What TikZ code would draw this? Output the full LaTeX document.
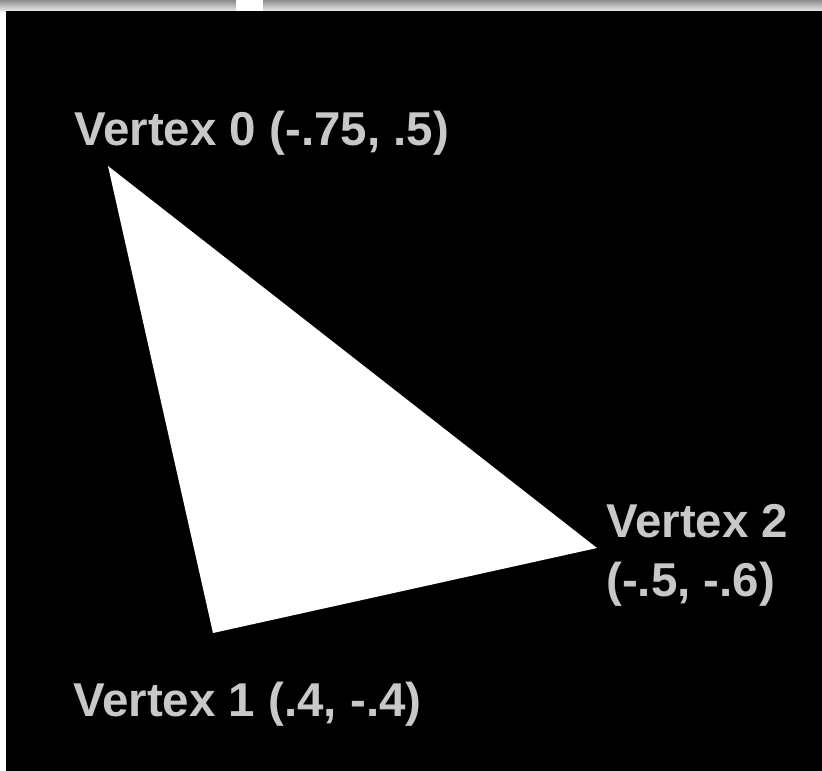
\documentclass[tikz,border=0pt]{standalone}
\usepackage{fontspec}
\setmainfont{Liberation Sans}
\begin{document}
\begin{tikzpicture}[x=1pt,y=-1pt,
  lbl/.style={text=labelgray,font=\bfseries\fontsize{47.5}{57}\selectfont,inner sep=0pt,anchor=base west,align=left}]
\definecolor{labelgray}{RGB}{200,200,200}
\useasboundingbox (0,0) rectangle (822,771);
\fill[white] (0,0) rectangle (822,771);
\shade[top color=black!45,bottom color=black!8] (0,0) rectangle (236,11);
\shade[top color=black!45,bottom color=black!8] (263,0) rectangle (822,11);
\fill[black] (6,11) rectangle (822,771);
\coordinate (v0) at (108,166);
\coordinate (v1) at (213,633);
\coordinate (v2) at (597,548);
\fill[white] (v0) -- (v1) -- (v2) -- cycle;
\node[lbl] (l0) at (74,145) {Vertex 0 (-.75, .5)};
\node[lbl] (l1) at (73,716) {Vertex 1 (.4, -.4)};
\node[lbl] (l2) at (606,537) {Vertex 2};
\node[lbl] (l2b) at (606,596) {(-.5, -.6)};
\end{tikzpicture}
\end{document}
